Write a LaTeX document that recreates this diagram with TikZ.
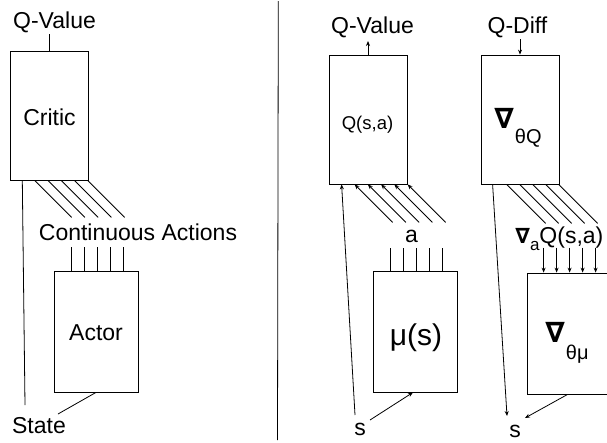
\documentclass[tikz,border=0pt]{standalone}
\usepackage{fontspec}
\setmainfont{Liberation Sans}
\newfontfamily\dvsans{DejaVu Sans}
\usetikzlibrary{arrows.meta,calc}
\begin{document}
\begin{tikzpicture}[x=1pt,y=-1pt,line width=0.8pt,
  box/.style={draw,minimum width=78pt,minimum height=129pt,inner sep=0pt},
  sbox/.style={draw,minimum width=84pt,minimum height=121pt,inner sep=0pt},
  lbl/.style={inner sep=0pt,anchor=base,font=\fontsize{23}{26}\selectfont},
  arr/.style={-{Stealth[length=5pt,width=4pt]}}
]
\useasboundingbox (0,0) rectangle (607,442);
\clip (0,0) rectangle (607,442);

% ---------- panel 1 ----------
\node[box] (critic) at (49,115.5) {};
\node[lbl] (critict) at (49.5,125) {Critic};
\node[lbl] (qv1) at (54.5,28) {Q-Value};
\coordinate (qv1b) at (49,34);
\draw (qv1b) -- (critic.north);
\node[sbox] (actor) at (96,331.5) {};
\node[lbl] (actort) at (96,340) {Actor};
\node[lbl] (cont) at (138,240) {Continuous Actions};
\node[lbl] (state) at (39,433) {State};
\coordinate (st1) at (25,405);
\coordinate (st2) at (58,414);
\draw ($(critic.south west)+(12.7,0)$) -- (st1);
\draw (actor.south) -- (st2);
\foreach \i in {0,...,4}{
  \draw ($(critic.south west)+(25+13.25*\i,0)$) -- ++(37,37);
  \draw ($(actor.north west)+(18+13*\i,0)$) -- ++(0,-24);
}

% divider
\coordinate (d1) at (278.3,1);
\coordinate (d2) at (277.5,440);
\draw (d1) -- (d2);

% ---------- panel 2 ----------
\node[box] (qbox) at (368,119.5) {};
\node[lbl,font=\fontsize{18.5}{20}\selectfont] (qsa) at (367.5,129) {Q(s,a)};
\node[lbl] (qv2) at (372.5,33) {Q-Value};
\coordinate (qv2b) at (368,41);
\draw[arr] (qbox.north) -- (qv2b);
\node[sbox] (mu) at (415,331.5) {};
\node[lbl,font=\fontsize{30}{32}\selectfont] (mut) at (416,345) {μ(s)};
\node[lbl] (a2) at (411.5,242) {a};
\node[lbl] (s2) at (360,435) {s};
\coordinate (s2a) at (355,415);
\coordinate (s2b) at (370,420);
\draw[arr] (s2a) -- ($(qbox.south west)+(13,0)$);
\draw[arr] (s2b) -- ($(mu.south)+(-2,0)$);
\foreach \i in {0,...,4}{
  \draw[arr] ($(qbox.south west)+(26+13.25*\i,0)+(38,38)$) -- ($(qbox.south west)+(26+13.25*\i,0)$);
  \draw ($(mu.north west)+(18+13*\i,0)$) -- ++(0,-23);
}

% ---------- panel 3 ----------
\node[box] (gbox) at (520,119.5) {};
\node[inner sep=0pt,anchor=base west] (gq) at (494,128)
  {{\dvsans\bfseries\fontsize{28}{28}\selectfont ∇}\kern1pt\raisebox{-15pt}{\fontsize{20}{20}\selectfont θQ}};
\node[lbl] (qd) at (517.5,33) {Q-Diff};
\coordinate (qdb) at (520,39);
\draw[arr] (qdb) -- (gbox.north);
\node[sbox] (gmu) at (569,333.5) {};
\node[inner sep=0pt,anchor=base west] (gm) at (545,342)
  {{\dvsans\bfseries\fontsize{28}{28}\selectfont ∇}\kern1pt\raisebox{-17pt}{\fontsize{20}{20}\selectfont θμ}};
\node[inner sep=0pt,anchor=base west,font=\fontsize{23}{26}\selectfont] (gaq) at (515,243)
  {{\dvsans\bfseries\fontsize{21}{21}\selectfont ∇}\raisebox{-7pt}{\fontsize{17}{17}\selectfont a}Q(s,a)};
\node[lbl] (s3) at (515,437) {s};
\coordinate (s3a) at (507,416);
\coordinate (s3b) at (525,418);
\draw[arr] ($(gbox.south west)+(12,0)$) -- (s3a);
\draw[arr] ($(gmu.south west)+(41,0)$) -- (s3b);
\foreach \i in {0,...,4}{
  \draw ($(gbox.south west)+(26+13*\i,0)$) -- ++(39,39);
  \draw[arr] ($(gmu.north west)+(17+13*\i,0)+(0,-25)$) -- ($(gmu.north west)+(17+13*\i,0)$);
}
\end{tikzpicture}
\end{document}
